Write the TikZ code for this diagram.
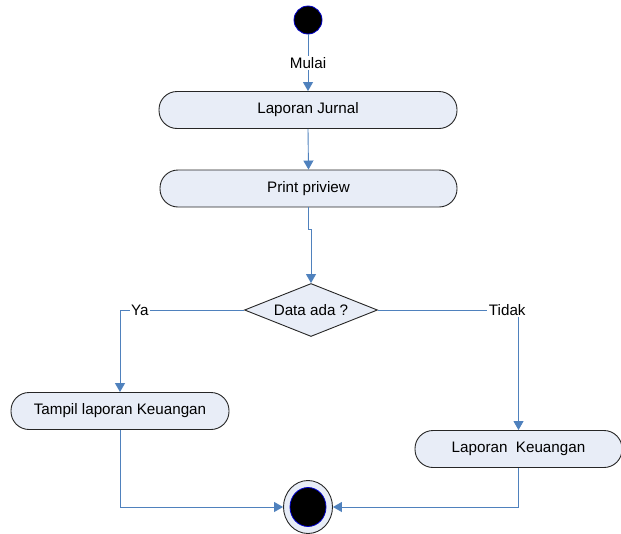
\documentclass[tikz,border=0pt]{standalone}
\usepackage{fontspec}
\setmainfont{Liberation Sans}
\usetikzlibrary{shapes.geometric,arrows.meta}
\definecolor{boxfill}{HTML}{E8EDF7}
\definecolor{conn}{HTML}{4F81BD}
\tikzset{
  actbox/.style={draw=black!85, fill=boxfill, rounded corners=18pt, line width=0.9pt, minimum height=37pt, inner sep=0pt, font=\fontsize{15.2}{18}\selectfont},
  flow/.style={draw=conn, line width=0.9pt, -{Triangle[width=10pt,length=9pt]}},
  lbl/.style={fill=white, inner sep=1.5pt, font=\fontsize{15.2}{18}\selectfont},
}
\begin{document}
\begin{tikzpicture}[x=1pt,y=-1pt]
\useasboundingbox (0,0) rectangle (621,533);
% start
\node[circle, draw=blue!80!black, fill=black, line width=0.8pt, minimum size=28pt, inner sep=0pt] (start) at (308,20) {};
% activities
\node[actbox, minimum width=298pt] (jurnal) at (308,110) {Laporan Jurnal};
\node[actbox, minimum width=297pt] (print) at (308.5,188.5) {Print priview};
\node[diamond, draw=black!85, fill=boxfill, line width=0.9pt, inner sep=0pt, aspect=2.5, minimum width=133pt, minimum height=53pt, font=\fontsize{15.2}{18}\selectfont] (dia) at (311,310) {Data ada ?};
\node[actbox, minimum width=218pt] (tampil) at (120,411) {Tampil laporan Keuangan};
\node[actbox, minimum width=207pt] (lapk) at (518.5,449) {Laporan\ \ Keuangan};
% final
\node[ellipse, draw=black!85, fill=boxfill, line width=0.9pt, minimum width=49pt, minimum height=53pt, inner sep=0pt] (final) at (308,507) {};
\node[ellipse, draw=blue!80!black, fill=black, line width=0.8pt, minimum width=36pt, minimum height=39pt, inner sep=0pt] (finalin) at (308,507) {};
% connectors
\draw[flow] (start) -- node[lbl, midway] {Mulai} (jurnal.north);
\draw[flow] (jurnal.south) -- (print.north);
\draw[flow] (print.south) -- ++(0,22) -| (dia.north);
\draw[flow] (dia.west) -| node[lbl, pos=0.42] {Ya} (tampil.north);
\draw[flow] (dia.east) -| node[lbl, pos=0.46] {Tidak} (lapk.north);
\draw[flow] (tampil.south) |- (final.west);
\draw[flow] (lapk.south) |- (final.east);
\end{tikzpicture}
\end{document}
